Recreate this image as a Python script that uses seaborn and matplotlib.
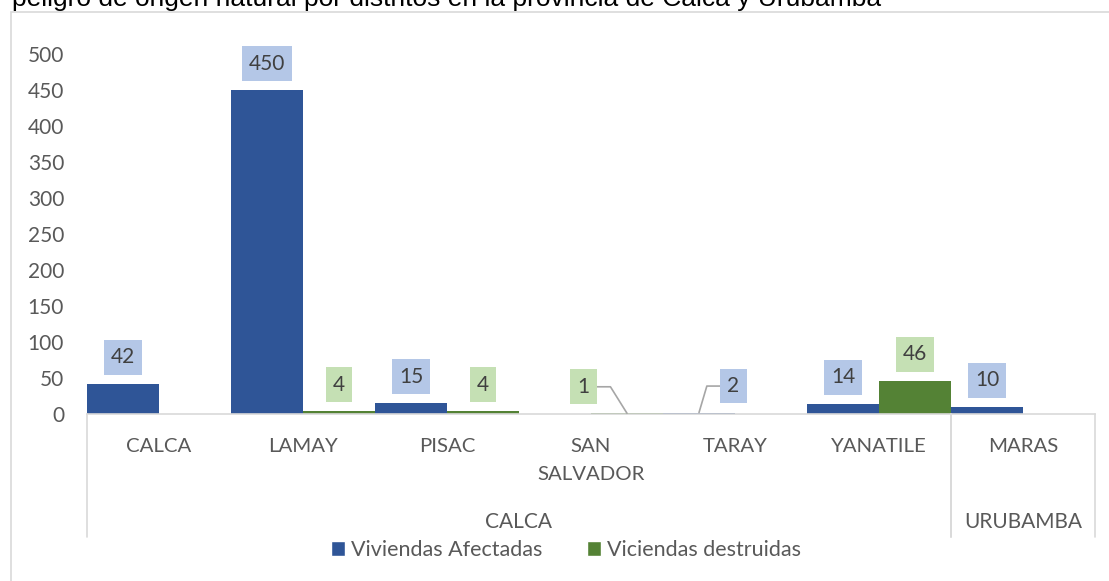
import matplotlib
matplotlib.use("Agg")
import matplotlib.pyplot as plt
import matplotlib.transforms as mtransforms
from matplotlib.patches import Patch, Rectangle
import seaborn as sns
import pandas as pd

# ---- data ----
titulo = "peligro de origen natural por distritos en la provincia de Calca y Urubamba"
distritos = ["CALCA", "LAMAY", "PISAC", "SAN SALVADOR", "TARAY", "YANATILE", "MARAS"]
provincias = ["CALCA", "CALCA", "CALCA", "CALCA", "CALCA", "CALCA", "URUBAMBA"]
series = ["Viviendas Afectadas", "Viciendas destruidas"]
afectadas = [42, 450, 15, 0, 2, 14, 10]
destruidas = [0, 4, 4, 1, 0, 46, 0]
y_ticks = [0, 50, 100, 150, 200, 250, 300, 350, 400, 450, 500]

# ---- style ----
sns.set_theme(style="white")
FONT = ["Lato", "DejaVu Sans"]
plt.rcParams["font.family"] = FONT
C_BLUE = "#2F5597"
C_GREEN = "#548235"
L_BLUE = "#B4C7E7"
L_GREEN = "#C5E0B4"
TXT = "#404040"
AX = "#595959"
GRID = "#D9D9D9"
FS_NUM = 15
FS_CAT = 14.7
FS_GRP = 15
FS_LEG = 15.5

W, H = 1109, 581
fig = plt.figure(figsize=(W / 100, H / 100), dpi=100)
x0, x1, ytop, ybot = 87, 1095, 54, 414
ax = fig.add_axes([x0 / W, 1 - ybot / H, (x1 - x0) / W, (ybot - ytop) / H])

df = pd.DataFrame({
    "Distrito": distritos * 2,
    "Serie": [series[0]] * len(distritos) + [series[1]] * len(distritos),
    "Valor": afectadas + destruidas,
})
sns.barplot(data=df, x="Distrito", y="Valor", hue="Serie", order=distritos,
            hue_order=series, palette=[C_BLUE, C_GREEN], width=1.0, saturation=1,
            linewidth=0, ax=ax, legend=False, errorbar=None)

ax.set_xlim(-0.5, len(distritos) - 0.5)
ax.set_ylim(0, 500)
ax.set_yticks(y_ticks)
ax.set_yticklabels([str(v) for v in y_ticks], color=AX, fontsize=FS_NUM)
ax.tick_params(axis="y", length=0, pad=16.5)
ax.set_xticks([])
ax.set_xlabel("")
ax.set_ylabel("")
for s in ["top", "right", "left"]:
    ax.spines[s].set_visible(False)
ax.spines["bottom"].set_color(GRID)
ax.spines["bottom"].set_linewidth(1.2)

# ---- data labels ----
PX = 100 / 72  # px per point
dy_pt = 26.5 / PX
special = {(3, 1): (-43.5, 122), (4, 0): (34.5, 73.5)}
for j, (vals, bg) in enumerate([(afectadas, L_BLUE), (destruidas, L_GREEN)]):
    for i, v in enumerate(vals):
        if v == 0:
            continue
        xb = i - 0.25 + 0.5 * j
        dx_px, angB = special.get((i, j), (0, None))
        kw = {}
        if angB is not None:
            kw["arrowprops"] = dict(arrowstyle="-", color="#A6A6A6", lw=1.2,
                                    shrinkA=0, shrinkB=0,
                                    connectionstyle=f"angle,angleA=0,angleB={angB},rad=0")
        ax.annotate(str(v), xy=(xb, v), xytext=(dx_px / PX, dy_pt),
                    textcoords="offset points", ha="center", va="center",
                    fontsize=FS_NUM, color=TXT, annotation_clip=False,
                    bbox=dict(boxstyle="square,pad=0.35", fc=bg, ec="none"), **kw)

# ---- category axis labels ----
trans = mtransforms.blended_transform_factory(ax.transData, ax.transAxes)
axh = ybot - ytop
for i, name in enumerate(distritos):
    for k, line in enumerate(name.split(" ")):
        ax.text(i, -(446 + 29 * k - ybot) / axh, line, transform=trans,
                ha="center", va="center", fontsize=FS_CAT, color=AX, clip_on=False)

# groups and separators
groups = []
for i, p in enumerate(provincias):
    if not groups or groups[-1][0] != p:
        groups.append([p, i, i])
    else:
        groups[-1][2] = i
sep_y = -(537 - ybot) / axh
for p, a, b in groups:
    ax.text((a + b) / 2, -(521.5 - ybot) / axh, p, transform=trans,
            ha="center", va="center", fontsize=FS_GRP, color=AX, clip_on=False)
    for xs in (a - 0.5, b + 0.5):
        ax.plot([xs, xs], [0, sep_y], transform=trans, color=GRID, lw=1.2,
                clip_on=False)

# ---- legend ----
handles = [Patch(facecolor=C_BLUE), Patch(facecolor=C_GREEN)]
fig.legend(handles, series, loc="center", bbox_to_anchor=(566 / W, 1 - 550 / H),
           ncol=2, frameon=False, fontsize=FS_LEG, handlelength=0.65, handleheight=0.65,
           handletextpad=0.26, columnspacing=2.1, labelcolor=AX, borderpad=0)

# ---- frame & title ----
fig.patches.append(Rectangle((11 / W, -0.1), 1.2, 1.1 - 12 / H, transform=fig.transFigure,
                             fill=False, ec=GRID, lw=1.2))
fig.text(12 / W, 1 - 6 / H, titulo, ha="left", va="baseline", fontsize=19,
         color="black", family=["Liberation Sans", "DejaVu Sans"])

fig.savefig("out.png", dpi=100)
